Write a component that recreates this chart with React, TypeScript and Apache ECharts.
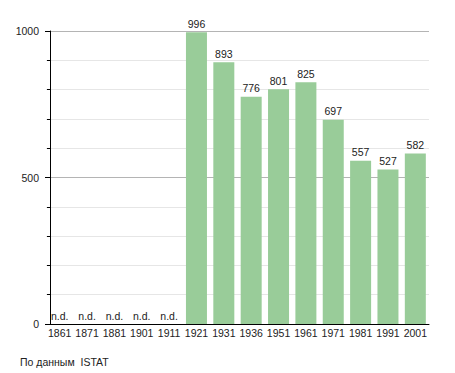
import React, { useEffect, useRef } from "react";
import * as echarts from "echarts";

const categories = ["1861", "1871", "1881", "1901", "1911", "1921", "1931", "1936", "1951", "1961", "1971", "1981", "1991", "2001"];
const population: (number | null)[] = [null, null, null, null, null, 996, 893, 776, 801, 825, 697, 557, 527, 582];
const yTicks = [0, 500, 1000];
const sourceNote = "По данным  ISTAT";

const FONT = "'Liberation Sans', Arial, sans-serif";

export default function App() {
  const ref = useRef<HTMLDivElement>(null);
  useEffect(() => {
    if (!ref.current) return;
    const chart = echarts.init(ref.current, undefined, { renderer: "svg" });
    const data = population.map((v) =>
      v === null
        ? { value: 0, label: { formatter: "n.d." } }
        : { value: v }
    );
    chart.setOption({
      animation: false,
      textStyle: { fontFamily: FONT },
      grid: { left: 46, right: 26, top: 31, bottom: 49, containLabel: false },
      xAxis: {
        type: "category",
        data: categories,
        axisLine: { lineStyle: { color: "#000", width: 1 } },
        axisTick: { show: false },
        axisLabel: { color: "#222", fontSize: 10.5, fontFamily: FONT, margin: 3, interval: 0 },
      },
      yAxis: {
        type: "value",
        min: yTicks[0],
        max: yTicks[yTicks.length - 1],
        interval: 500,
        offset: -4,
        axisLine: { show: true, lineStyle: { color: "#000", width: 1 } },
        axisTick: { show: true, length: 5, lineStyle: { color: "#000" } },
        minorTick: { show: true, splitNumber: 5, length: 3, lineStyle: { color: "#000" } },
        axisLabel: {
          color: "#222",
          fontSize: 10.5,
          fontFamily: FONT,
          margin: 11,
          formatter: (v: number) => String(v),
        },
        splitLine: { show: true, lineStyle: { color: "#b4b4b4", width: 1 } },
        minorSplitLine: { show: true, lineStyle: { color: "#e6e6e6", width: 1 } },
      },
      series: [
        {
          type: "bar",
          data,
          barWidth: 21,
          itemStyle: { color: "#99cc99" },
          label: {
            show: true,
            position: "top",
            distance: 3,
            color: "#222",
            fontSize: 10.5,
            fontFamily: FONT,
          },
        },
      ],
      graphic: [
        {
          type: "text",
          left: 20,
          top: 356,
          style: { text: sourceNote, fill: "#222", fontSize: 10.5, fontFamily: FONT },
        },
      ],
    });
    return () => chart.dispose();
  }, []);
  return (
    <div
      ref={ref}
      style={{ position: "absolute", left: 0, top: 0, width: 455, height: 373, background: "#fff" }}
    />
  );
}
